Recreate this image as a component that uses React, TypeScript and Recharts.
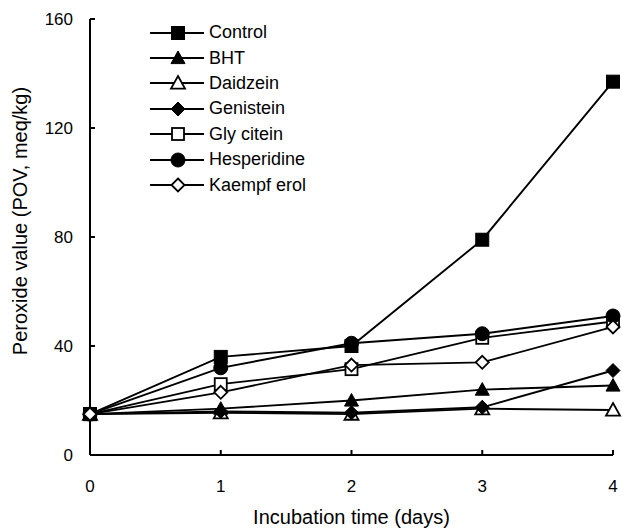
import React from 'react';
import { LineChart, Line, XAxis, YAxis, Legend } from 'recharts';

const days = [0, 1, 2, 3, 4];
const control = [15, 36, 40, 79, 137];
const bht = [15, 17, 20, 24, 25.5];
const daidzein = [15, 15.5, 15, 17, 16.5];
const genistein = [15, 16, 15.5, 17.5, 31];
const glycitein = [15, 26, 31.5, 43, 49];
const hesperidine = [15, 32, 41, 44.5, 51];
const kaempferol = [15, 23, 33, 34, 47];

const yTicks = [0, 40, 80, 120, 160];

type Shape = 'square' | 'triangle' | 'circle' | 'diamond';

const SERIES: { key: string; name: string; values: number[]; shape: Shape; filled: boolean }[] = [
    { key: 'control', name: 'Control', values: control, shape: 'square', filled: true },
    { key: 'bht', name: 'BHT', values: bht, shape: 'triangle', filled: true },
    { key: 'daidzein', name: 'Daidzein', values: daidzein, shape: 'triangle', filled: false },
    { key: 'genistein', name: 'Genistein', values: genistein, shape: 'diamond', filled: true },
    { key: 'glycitein', name: 'Gly citein', values: glycitein, shape: 'square', filled: false },
    { key: 'hesperidine', name: 'Hesperidine', values: hesperidine, shape: 'circle', filled: true },
    { key: 'kaempferol', name: 'Kaempf erol', values: kaempferol, shape: 'diamond', filled: false },
];

const data = days.map((d, i) => {
    const row: { [k: string]: number } = { day: d };
    SERIES.forEach(s => { row[s.key] = s.values[i]; });
    return row;
});

const FONT = '"Liberation Sans", Arial, sans-serif';

const Marker = ({ cx, cy, shape, filled }: { cx: number; cy: number; shape: Shape; filled: boolean }) => {
    const fill = filled ? '#000' : '#fff';
    const sw = filled ? 1 : 1.8;
    if (shape === 'square') {
        const h = filled ? 6.5 : 6;
        return <rect x={cx - h} y={cy - h} width={h * 2} height={h * 2} fill={fill} stroke="#000" strokeWidth={sw} />;
    }
    if (shape === 'triangle') {
        const h = 7;
        return <polygon points={`${cx},${cy - h} ${cx + h},${cy + h * 0.8} ${cx - h},${cy + h * 0.8}`} fill={fill} stroke="#000" strokeWidth={sw} />;
    }
    if (shape === 'circle') {
        return <circle cx={cx} cy={cy} r={7} fill={fill} stroke="#000" strokeWidth={sw} />;
    }
    const h = filled ? 7 : 6.5;
    return <polygon points={`${cx},${cy - h} ${cx + h},${cy} ${cx},${cy + h} ${cx - h},${cy}`} fill={fill} stroke="#000" strokeWidth={sw} />;
};

const LegendBox = () => (
    <div style={{ fontFamily: FONT, fontSize: 18, color: '#000' }}>
        {SERIES.map(s => (
            <div key={s.key} style={{ display: 'flex', alignItems: 'center', height: 25.4 }}>
                <svg width={54} height={20}>
                    <line x1={0} y1={10} x2={54} y2={10} stroke="#000" strokeWidth={1.8} />
                    <Marker cx={28} cy={10} shape={s.shape} filled={s.filled} />
                </svg>
                <span style={{ marginLeft: 5 }}>{s.name}</span>
            </div>
        ))}
    </div>
);

const YTitle = (props: any) => {
    const vb = props.viewBox || {};
    const x = 20;
    const y = (vb.y ?? 19) + (vb.height ?? 436) / 2 - 16;
    return (
        <text x={x} y={y} transform={`rotate(-90, ${x}, ${y})`} textAnchor="middle" dominantBaseline="central"
            fill="#000" fontSize={20} fontFamily={FONT}>
            Peroxide value (POV, meq/kg)
        </text>
    );
};

export default function App() {
    return (
        <div style={{ position: 'absolute', left: 0, top: 0, background: '#fff' }}>
            <LineChart width={622} height={531} data={data} margin={{ top: 19, right: 9, bottom: 0, left: 0 }}>
                <XAxis
                    dataKey="day"
                    type="number"
                    domain={[0, 4]}
                    ticks={days}
                    height={76}
                    stroke="#000"
                    strokeWidth={2}
                    tickSize={-5}
                    tickMargin={30}
                    tick={{ fill: '#000', fontSize: 17, fontFamily: FONT }}
                    label={{ value: 'Incubation time (days)', position: 'insideBottom', offset: 7, style: { fill: '#000', fontSize: 20, fontFamily: FONT } }}
                />
                <YAxis
                    type="number"
                    domain={[0, 160]}
                    ticks={yTicks}
                    width={90}
                    stroke="#000"
                    strokeWidth={2}
                    tickSize={-5}
                    tickMargin={22}
                    tick={{ fill: '#000', fontSize: 17, fontFamily: FONT }}
                    label={<YTitle />}
                />
                <Legend
                    layout="vertical"
                    align="center"
                    verticalAlign="middle"
                    wrapperStyle={{ left: 150, top: 20, width: 220 }}
                    content={() => <LegendBox />}
                />
                {SERIES.map(s => (
                    <Line
                        key={s.key}
                        dataKey={s.key}
                        name={s.name}
                        stroke="#000"
                        strokeWidth={1.9}
                        isAnimationActive={false}
                        dot={(p: any) => <Marker key={`${s.key}-${p.index}`} cx={p.cx} cy={p.cy} shape={s.shape} filled={s.filled} />}
                    />
                ))}
            </LineChart>
        </div>
    );
}
